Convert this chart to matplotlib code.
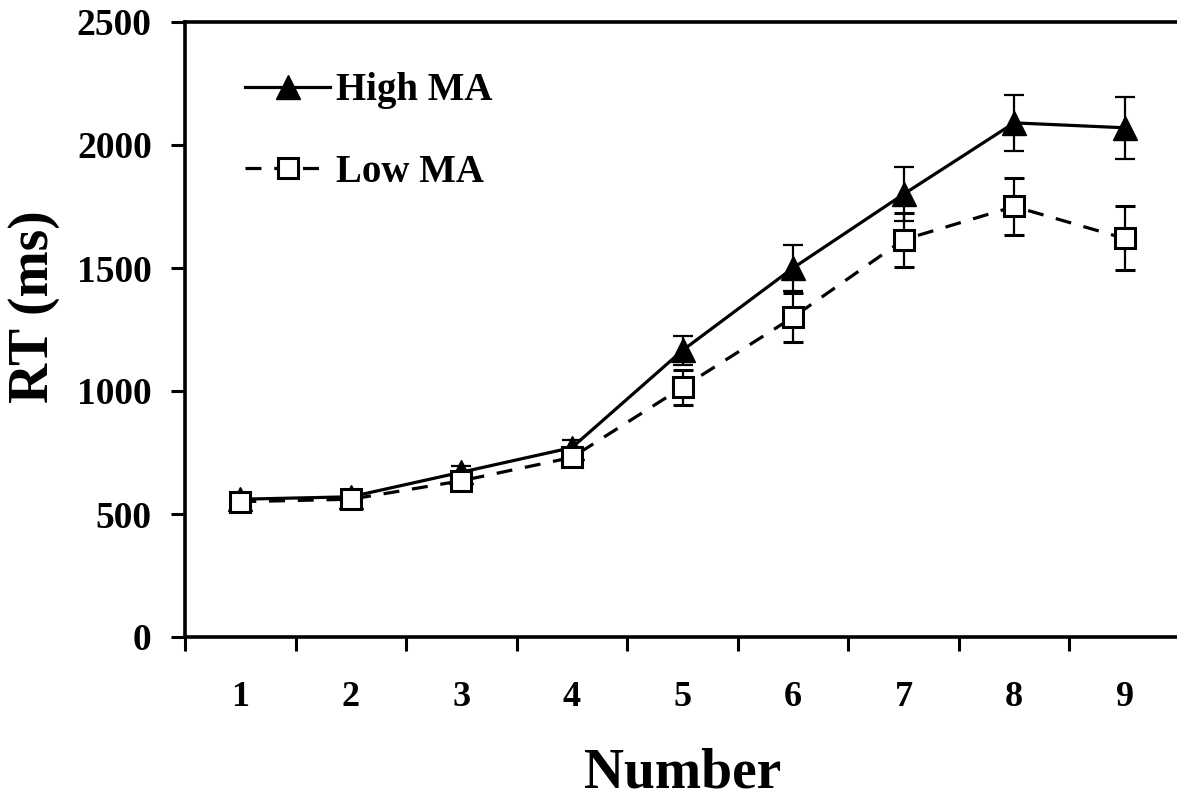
import numpy as np
import matplotlib
matplotlib.use("Agg")
import matplotlib.pyplot as plt
from matplotlib.lines import Line2D

# reaction times by number, two math-anxiety groups
numbers = [1, 2, 3, 4, 5, 6, 7, 8, 9]
high_ma = [560, 570, 670, 770, 1165, 1500, 1800, 2090, 2070]
high_err = [20, 20, 25, 30, 60, 95, 110, 115, 125]
low_ma = [550, 560, 635, 730, 1015, 1300, 1615, 1750, 1620]
low_err = [20, 20, 25, 30, 70, 100, 110, 115, 130]
yticks = [0, 500, 1000, 1500, 2000, 2500]

plt.rcParams['font.family'] = ['Liberation Serif', 'DejaVu Serif']
plt.rcParams['font.weight'] = 'bold'

fig = plt.figure(figsize=(11.77, 7.98), dpi=100)
ax = fig.add_axes([185 / 1177, 161 / 798, 995 / 1177, 615 / 798])

x = np.array(numbers)
dash = (0, (5, 4))
ax.errorbar(x, high_ma, yerr=high_err, color='black', lw=2.3, ls='-',
            marker='^', ms=17, mfc='black', mec='black',
            ecolor='black', elinewidth=1.6, capsize=7.5, capthick=1.6,
            zorder=3)
ax.errorbar(x, low_ma, yerr=low_err, color='black', lw=2.3, ls=dash,
            marker='s', ms=15, mfc='white', mec='black', mew=2.2,
            ecolor='black', elinewidth=1.6, capsize=7.5, capthick=1.6,
            zorder=4)

ax.set_xlim(0.5, 9.5)
ax.set_ylim(0, 2500)
ax.set_yticks(yticks)
ax.set_xticks(numbers)
ax.set_xticks(np.arange(0.5, 9.6, 1), minor=True)
ax.tick_params(axis='x', which='major', length=0, pad=32, labelsize=26)
ax.tick_params(axis='x', which='minor', length=10, width=2.2, direction='out')
ax.tick_params(axis='y', length=10, width=2.2, direction='out', pad=14,
               labelsize=27)

for side in ['left', 'bottom', 'top']:
    ax.spines[side].set_linewidth(2.6)
ax.spines['right'].set_visible(False)

ax.set_xlabel('Number', fontsize=40, fontweight='bold', labelpad=24)
ax.set_ylabel('RT (ms)', fontsize=40, fontweight='bold')
ax.yaxis.set_label_coords(-0.126, 0.538)

handles = [
    Line2D([], [], color='black', lw=2.3, ls='-', marker='^', ms=17,
           mfc='black', mec='black'),
    Line2D([], [], color='black', lw=2.3, ls=dash, marker='s', ms=15,
           mfc='white', mec='black', mew=2.2),
]
leg = ax.legend(handles, ['High MA', 'Low MA'], loc='upper left',
                frameon=False, fontsize=28, handlelength=2.2,
                labelspacing=1.15, handletextpad=0.15,
                bbox_to_anchor=(0.025, 0.975), numpoints=1)
for t in leg.get_texts():
    t.set_fontweight('bold')

fig.savefig('out.png', dpi=100)
